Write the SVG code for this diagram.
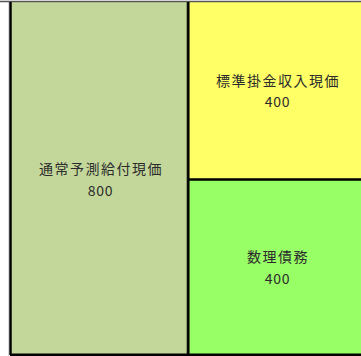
<svg xmlns="http://www.w3.org/2000/svg" width="361" height="356" viewBox="0 0 361 356">
<style>
.t{font-family:"Noto Sans CJK JP","Noto Sans",sans-serif;font-size:14px;fill:#2b2b2b;text-anchor:middle;letter-spacing:1.5px}
.n{letter-spacing:0.8px}
.b{stroke:#000;stroke-width:2.5}
</style>
<rect width="361" height="356" fill="#ffffff"/>
<line x1="8.5" y1="2" x2="8.5" y2="356" stroke="#d9d9d9" stroke-width="1"/>
<g id="node-left">
<rect x="10" y="2" width="177" height="353" fill="#C4D79B"/>
<line x1="186.5" y1="2" x2="186.5" y2="355" stroke="#8a9a6a" stroke-width="1"/>
<text class="t" x="101" y="174">通常予測給付現価</text>
<text class="t n" x="100.5" y="196">800</text>
</g>
<g id="node-top-right">
<rect x="188" y="2" width="173" height="178" fill="#FFFF66"/>
<text class="t" x="278" y="86">標準掛金収入現価</text>
<text class="t n" x="277.5" y="107">400</text>
</g>
<g id="node-bottom-right">
<rect x="188" y="180" width="173" height="175" fill="#99FF66"/>
<text class="t" x="278" y="262">数理債務</text>
<text class="t n" x="277.5" y="284">400</text>
</g>
<g id="connectors">
<line x1="0" y1="1.5" x2="361" y2="1.5" stroke="#555" stroke-width="1.5"/>
<line class="b" x1="10.5" y1="2" x2="10.5" y2="355"/>
<line class="b" x1="10" y1="354.8" x2="361" y2="354.8"/>
<line class="b" x1="188.3" y1="2" x2="188.3" y2="355"/>
<line class="b" x1="188" y1="179.5" x2="361" y2="179.5"/>
</g>
</svg>
